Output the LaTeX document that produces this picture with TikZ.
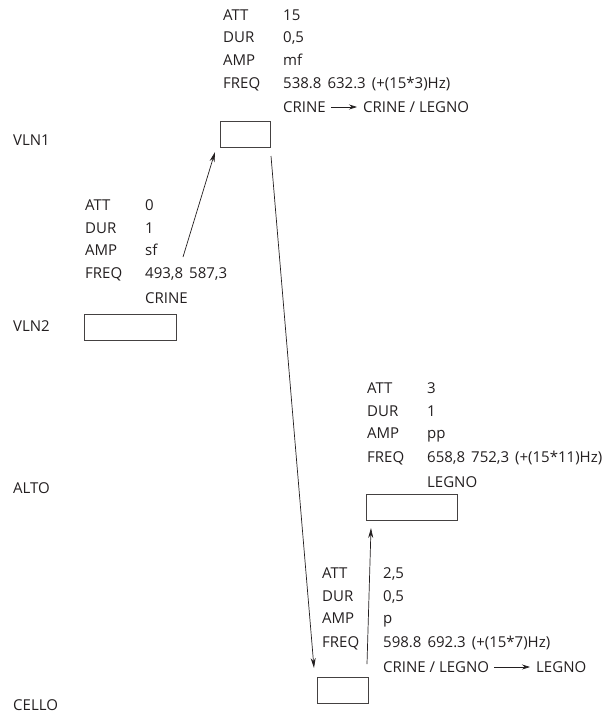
\documentclass[tikz,border=0pt]{standalone}
\usepackage{fontspec}
\setmainfont{Open Sans}
\usetikzlibrary{arrows.meta}
\definecolor{ink}{HTML}{231F20}
\tikzset{
  txt/.style={anchor=west, inner sep=0pt, text height=10.7pt, text depth=0pt, font=\fontsize{15}{18}\selectfont, text=ink},
  slot/.style={draw=ink!85, line width=0.8pt},
  conn/.style={draw=ink, line width=0.7pt, -{Stealth[length=10pt,width=5pt]}},
  inl/.style={draw=ink, line width=0.7pt, -{Stealth[length=8pt,width=5pt]}, shorten <=5pt, shorten >=6pt}
}
\begin{document}
\begin{tikzpicture}[x=1pt,y=-1pt]
\useasboundingbox (0,0) rectangle (613,715);
% instrument labels
\node[txt] (lv1) at (13,140) {VLN1};
\node[txt] (lv2) at (13,326) {VLN2};
\node[txt] (lal) at (13,488) {ALTO};
\node[txt] (lce) at (13,705) {CELLO};
% boxes
\draw[slot] (220,121) rectangle (270,147);
\draw[slot] (84,314) rectangle (176,340);
\draw[slot] (366,494) rectangle (457,520);
\draw[slot] (317,677) rectangle (368,703);
% block 1 (VLN1)
\node[txt] (k1a) at (223,15) {ATT};
\node[txt] (v1a) at (283,15) {15};
\node[txt] (k1b) at (223,37) {DUR};
\node[txt] (v1b) at (283,37) {0,5};
\node[txt] (k1c) at (223,60) {AMP};
\node[txt] (v1c) at (283,60) {mf};
\node[txt] (k1d) at (223,83) {FREQ};
\node[txt] (v1d) at (283,83) {538.8\hspace{6pt}632.3\hspace{6pt}(+(15*3)Hz)};
\node[txt] (m1a) at (283,107) {CRINE};
\node[txt] (m1b) at (363,107) {CRINE / LEGNO};
\draw[inl] (m1a.east) -- (m1b.west);
% block 2 (VLN2)
\node[txt] (k2a) at (85,205) {ATT};
\node[txt] (v2a) at (145,205) {0};
\node[txt] (k2b) at (85,228) {DUR};
\node[txt] (v2b) at (145,228) {1};
\node[txt] (k2c) at (85,250) {AMP};
\node[txt] (v2c) at (145,250) {sf};
\node[txt] (k2d) at (85,273) {FREQ};
\node[txt] (v2d) at (145,273) {493,8\hspace{6pt}587,3};
\node[txt] (m2a) at (145,298) {CRINE};
% block 3 (ALTO)
\node[txt] (k3a) at (367,388) {ATT};
\node[txt] (v3a) at (427,388) {3};
\node[txt] (k3b) at (367,411) {DUR};
\node[txt] (v3b) at (427,411) {1};
\node[txt] (k3c) at (367,433) {AMP};
\node[txt] (v3c) at (427,433) {pp};
\node[txt] (k3d) at (367,457) {FREQ};
\node[txt] (v3d) at (427,457) {658,8\hspace{6pt}752,3\hspace{6pt}(+(15*11)Hz)};
\node[txt] (m3a) at (427,482) {LEGNO};
% block 4 (CELLO)
\node[txt] (k4a) at (322,573) {ATT};
\node[txt] (v4a) at (383,573) {2,5};
\node[txt] (k4b) at (322,596) {DUR};
\node[txt] (v4b) at (383,596) {0,5};
\node[txt] (k4c) at (322,618) {AMP};
\node[txt] (v4c) at (383,618) {p};
\node[txt] (k4d) at (322,642) {FREQ};
\node[txt] (v4d) at (383,642) {598.8\hspace{6pt}692.3\hspace{6pt}(+(15*7)Hz)};
\node[txt] (m4a) at (383,667) {CRINE / LEGNO};
\node[txt] (m4b) at (536,667) {LEGNO};
\draw[inl] (m4a.east) -- (m4b.west);
% connectors
\coordinate (s1) at (183,257);
\coordinate (e1) at (215,152);
\coordinate (s2) at (271,156);
\coordinate (e2) at (314,668);
\coordinate (s3) at (367,664);
\coordinate (e3) at (371,528);
\draw[conn] (s1) -- (e1);
\draw[conn] (s2) -- (e2);
\draw[conn] (s3) -- (e3);
\end{tikzpicture}
\end{document}
